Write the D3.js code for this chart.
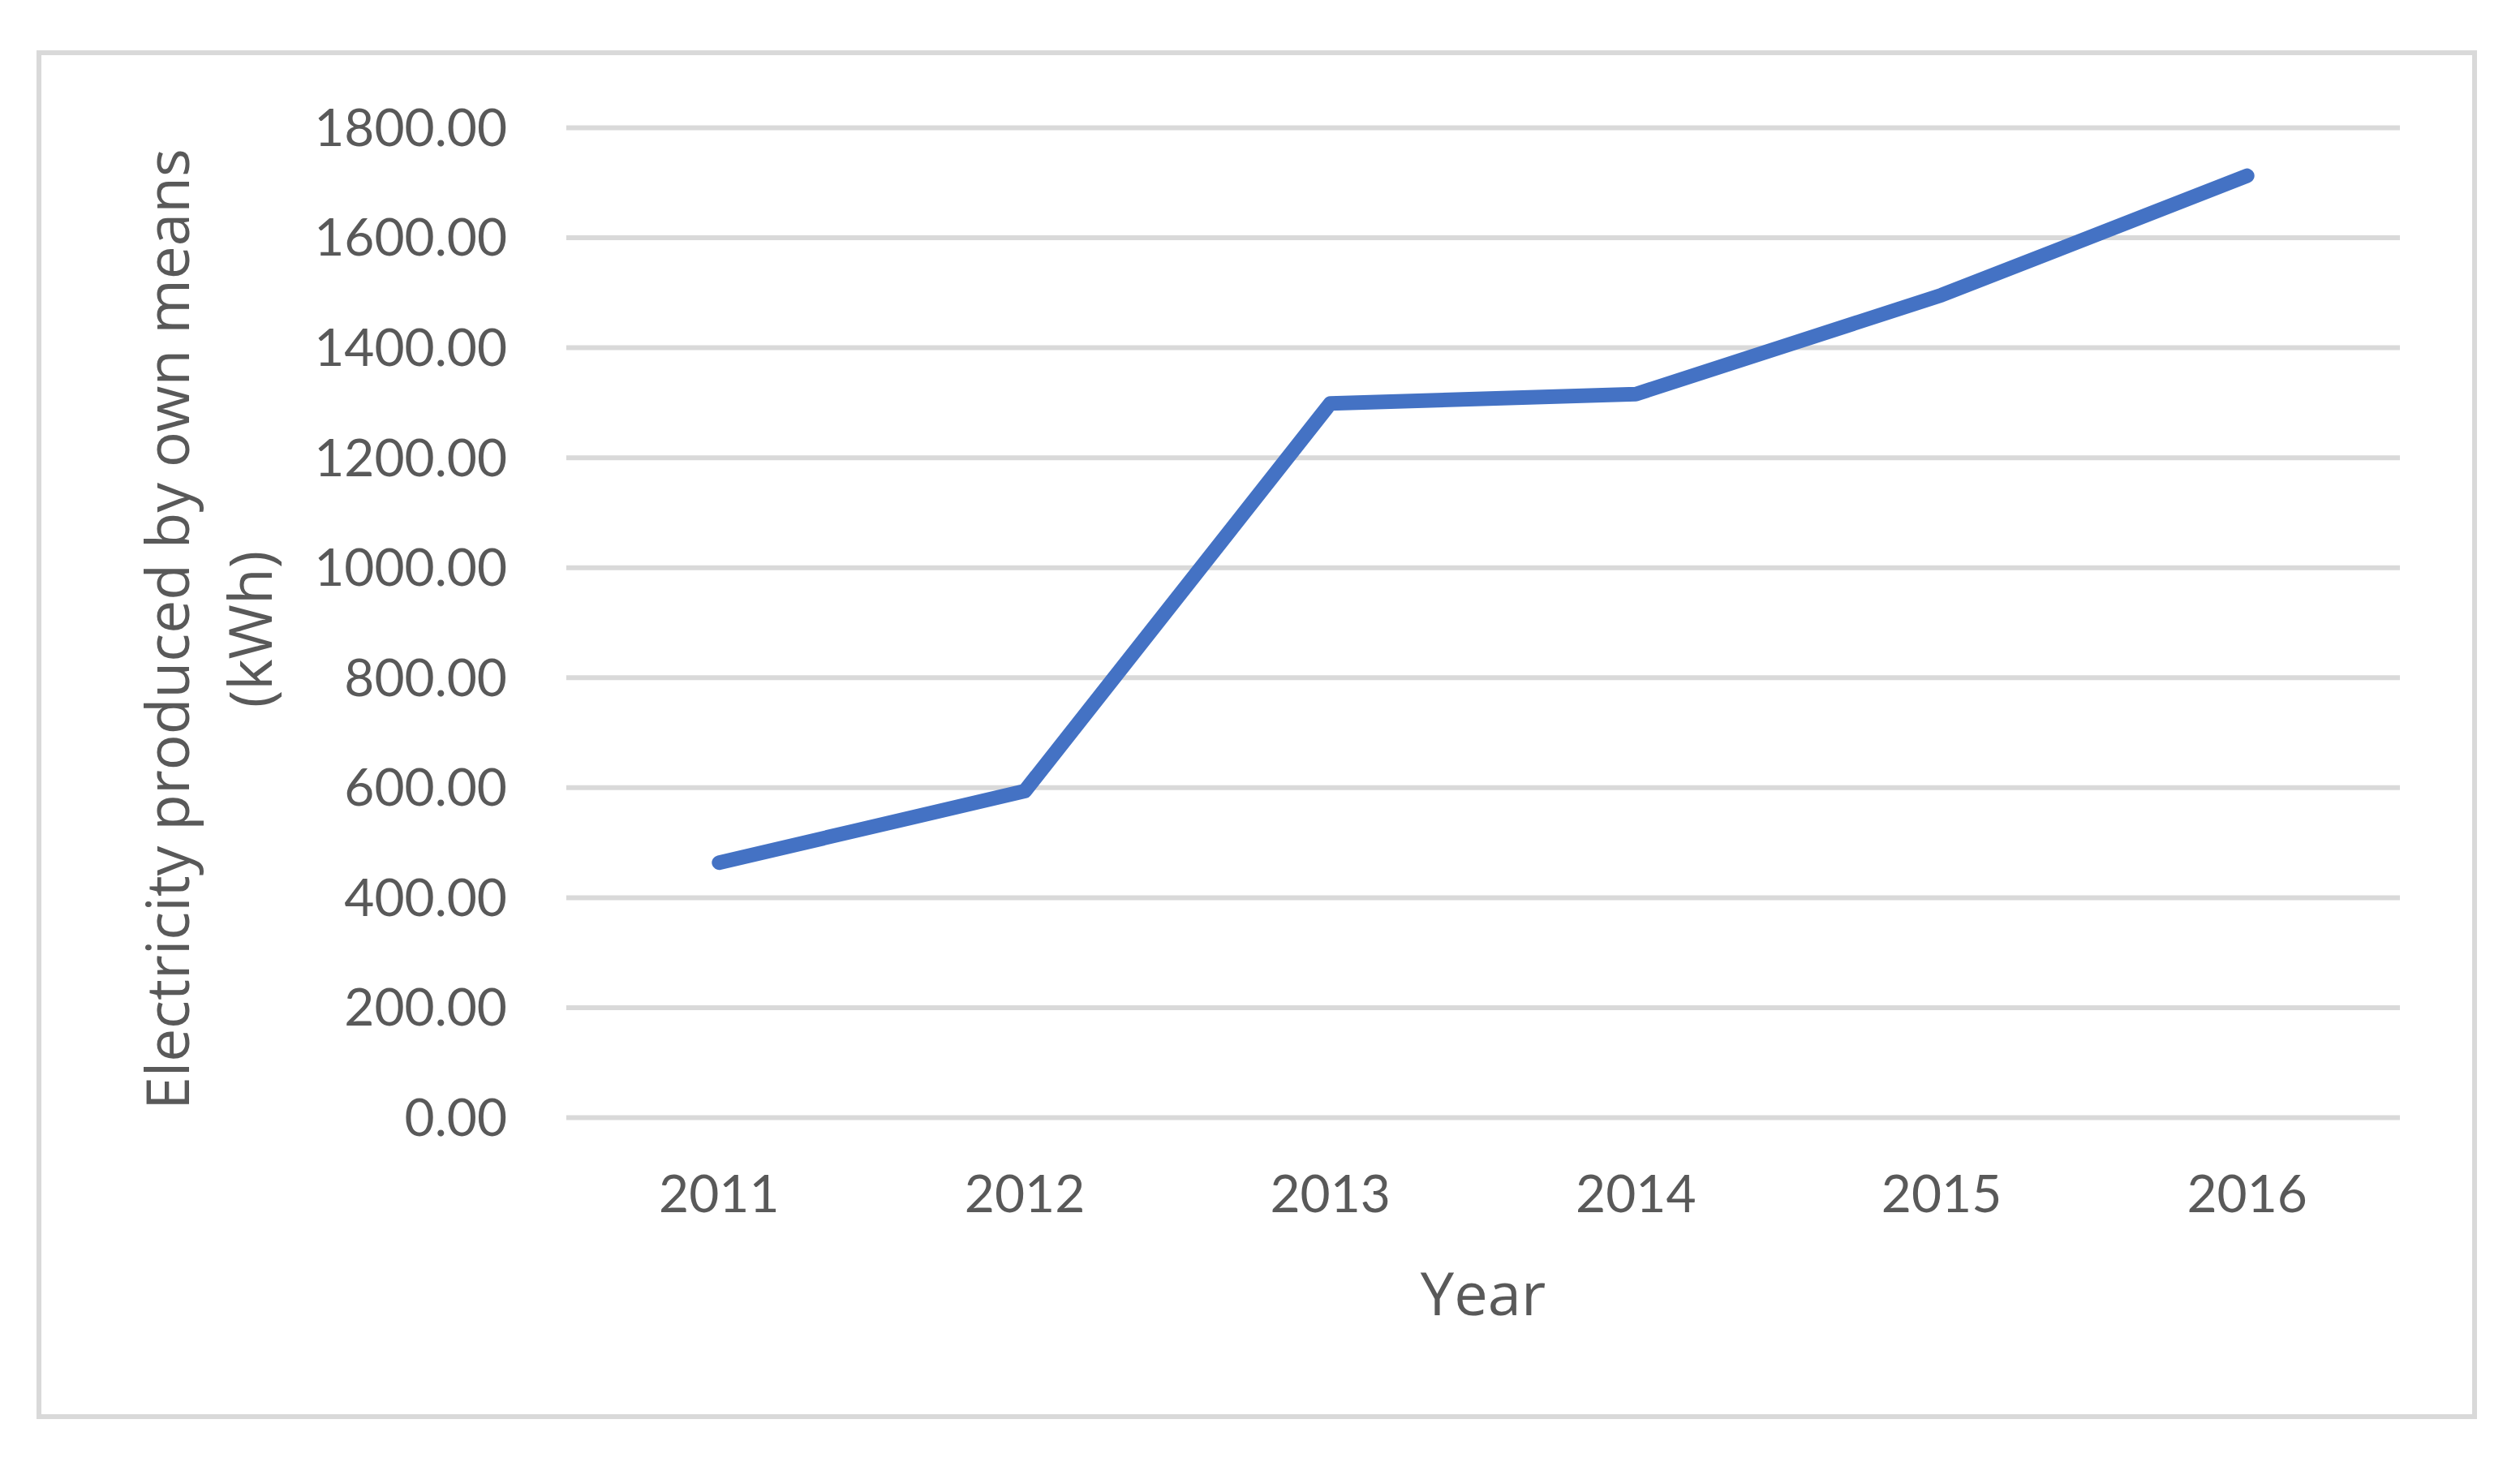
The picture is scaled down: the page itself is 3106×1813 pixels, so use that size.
<!DOCTYPE html>
<html>
<head>
<meta charset="utf-8">
<script src="https://cdn.jsdelivr.net/npm/d3@7"></script>
<style>
  html, body { margin: 0; padding: 0; background: #ffffff; }
  svg { display: block; }
</style>
</head>
<body>
<svg id="chart" width="3106" height="1813"></svg>
<script>
// ---- data ----
const years = ["2011", "2012", "2013", "2014", "2015", "2016"];
const electricity = [463, 593, 1298, 1315, 1495, 1712];
const yTicks = [0, 200, 400, 600, 800, 1000, 1200, 1400, 1600, 1800];
const yTitleLines = ["Electricity produced by own means", "(kWh)"];
const xTitle = "Year";

// ---- layout ----
const W = 3106, H = 1813;
const plot = { left: 698, right: 2958, top: 157, bottom: 1377 };
const textColor = "#595959";
const gridColor = "#D9D9D9";

const svg = d3.select("#chart");
svg.append("rect").attr("width", W).attr("height", H).attr("fill", "#ffffff");

// chart border
svg.append("rect")
  .attr("x", 48).attr("y", 65)
  .attr("width", 3002).attr("height", 1681)
  .attr("fill", "none").attr("stroke", gridColor).attr("stroke-width", 6);

const x = d3.scaleBand().domain(years).range([plot.left, plot.right]).padding(0);
const y = d3.scaleLinear().domain([0, 1800]).range([plot.bottom, plot.top]);

// y axis with gridlines
const yAxis = d3.axisLeft(y)
  .tickValues(yTicks)
  .tickSize(-(plot.right - plot.left))
  .tickPadding(73)
  .tickFormat(d3.format(".2f"));

const gy = svg.append("g")
  .attr("transform", `translate(${plot.left},0)`)
  .call(yAxis);
gy.select(".domain").remove();
gy.selectAll(".tick line").attr("stroke", gridColor).attr("stroke-width", 6);
gy.selectAll(".tick text")
  .attr("fill", textColor)
  .attr("font-family", "Lato, 'Open Sans', sans-serif")
  .attr("font-size", 64)
  .attr("dy", "0.35em");

// x axis
const xAxis = d3.axisBottom(x).tickSize(0).tickPadding(0);
const gx = svg.append("g")
  .attr("transform", `translate(0,${plot.bottom})`)
  .call(xAxis);
gx.select(".domain").remove();
gx.selectAll(".tick text")
  .attr("fill", textColor)
  .attr("font-family", "Lato, 'Open Sans', sans-serif")
  .attr("font-size", 64)
  .attr("y", 117)
  .attr("dy", 0);

// line
const pts = years.map((yr, i) => ({ year: yr, v: electricity[i] }));
const line = d3.line()
  .x(d => x(d.year) + x.bandwidth() / 2)
  .y(d => y(d.v));
svg.append("path")
  .datum(pts)
  .attr("d", line)
  .attr("fill", "none")
  .attr("stroke", "#4472C4")
  .attr("stroke-width", 18)
  .attr("stroke-linecap", "round")
  .attr("stroke-linejoin", "round");

// y axis title (rotated)
const yt = svg.append("text")
  .attr("transform", `translate(233,775.5) rotate(-90)`)
  .attr("text-anchor", "middle")
  .attr("fill", textColor)
  .attr("font-family", "'Open Sans', 'Noto Sans', sans-serif")
  .attr("font-size", 73);
yTitleLines.forEach((t, i) => {
  yt.append("tspan").attr("x", 0).attr("y", i * 102).text(t);
});

// x axis title
svg.append("text")
  .attr("x", (plot.left + plot.right) / 2)
  .attr("y", 1621)
  .attr("text-anchor", "middle")
  .attr("fill", textColor)
  .attr("font-family", "'Open Sans', 'Noto Sans', sans-serif")
  .attr("font-size", 74)
  .text(xTitle);
</script>
</body>
</html>
